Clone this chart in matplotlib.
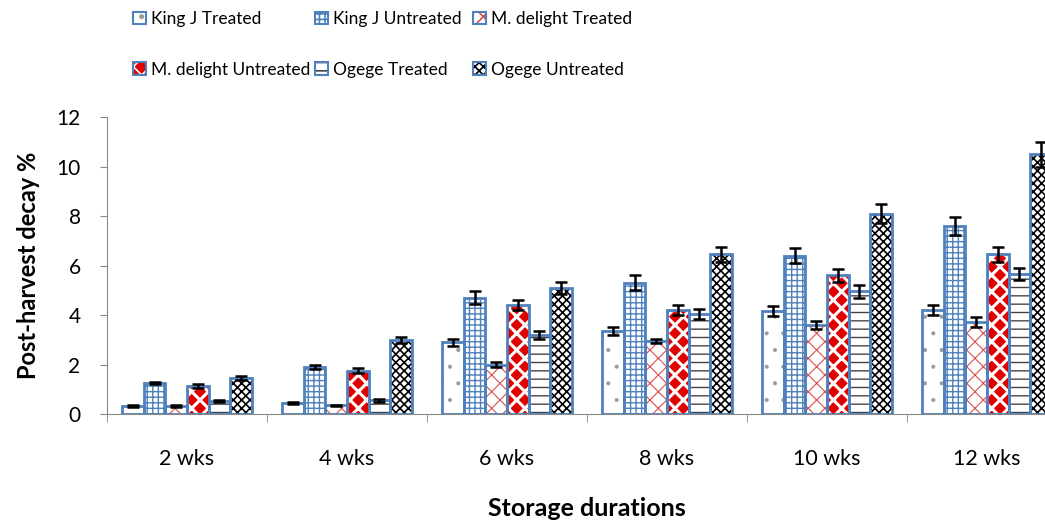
import matplotlib.pyplot as plt
import numpy as np
from matplotlib.patches import Patch

plt.rcParams["font.family"] = ["Lato", "DejaVu Sans"]

durations = ["2 wks", "4 wks", "6 wks", "8 wks", "10 wks", "12 wks"]
series_names = [
    "King J Treated",
    "King J Untreated",
    "M. delight Treated",
    "M. delight Untreated",
    "Ogege Treated",
    "Ogege Untreated",
]

king_t = [0.33, 0.45, 2.90, 3.35, 4.15, 4.20]
king_u = [1.25, 1.90, 4.70, 5.30, 6.40, 7.60]
md_t = [0.33, 0.35, 2.00, 2.95, 3.60, 3.70]
md_u = [1.13, 1.75, 4.40, 4.20, 5.60, 6.45]
og_t = [0.52, 0.55, 3.20, 4.05, 4.95, 5.65]
og_u = [1.45, 3.00, 5.10, 6.45, 8.10, 10.50]

king_t_err = [0.05, 0.05, 0.15, 0.15, 0.2, 0.2]
king_u_err = [0.05, 0.1, 0.25, 0.3, 0.3, 0.35]
md_t_err = [0.04, 0.03, 0.1, 0.1, 0.15, 0.2]
md_u_err = [0.08, 0.1, 0.2, 0.2, 0.25, 0.3]
og_t_err = [0.05, 0.05, 0.15, 0.2, 0.25, 0.25]
og_u_err = [0.08, 0.12, 0.25, 0.3, 0.4, 0.5]

values = [king_t, king_u, md_t, md_u, og_t, og_u]
errors = [king_t_err, king_u_err, md_t_err, md_u_err, og_t_err, og_u_err]

EDGE = "#4f81bd"
# face colour, hatch, hatch colour, hatch linewidth
styles = [
    ("white", ".", "#9a9a9a", 0.5),
    ("white", "+++", EDGE, 1.0),
    ("white", "xx", "#d85050", 0.8),
    ("#e00000", "xx", "white", 2.2),
    ("white", "--", "#444444", 1.0),
    ("white", "xxxx", "black", 1.2),
]

fig = plt.figure(figsize=(10.45, 5.24), dpi=100)
ax = fig.add_axes([0.1024, 0.2099, 0.9187, 0.5668])

x = np.arange(len(durations))
width = 0.135
handles = []
for i, (vals, errs) in enumerate(zip(values, errors)):
    pos = x + (i - 2.5) * width
    face, hatch, hcol, hlw = styles[i]
    plt.rcParams["hatch.linewidth"] = hlw
    ax.bar(pos, vals, width, color=face, edgecolor=hcol, hatch=hatch,
           linewidth=0, zorder=2)
    ax.bar(pos, vals, width, color="none", edgecolor=EDGE, linewidth=2, zorder=3)
    ax.errorbar(pos, vals, yerr=errs, fmt="none", ecolor="black", elinewidth=1.8,
                capsize=4, capthick=1.8, zorder=4)
    h_fill = Patch(facecolor=face, edgecolor=hcol, hatch=hatch, linewidth=0)
    h_edge = Patch(facecolor="none", edgecolor=EDGE, linewidth=1.5)
    handles.append((h_fill, h_edge))

ax.set_xlim(-0.5, len(durations) - 0.5)
ax.set_ylim(0, 12)
ax.set_yticks(range(0, 13, 2))
ax.set_xticks(x)
ax.set_xticklabels(durations)
ax.set_xticks(np.arange(-0.5, len(durations), 1), minor=True)
ax.tick_params(axis="x", which="major", length=0, labelsize=15.5, pad=25)
ax.tick_params(axis="x", which="minor", length=6, color="#888888")
ax.tick_params(axis="y", labelsize=15, color="#888888", length=5, pad=14)
for side in ["top", "right"]:
    ax.spines[side].set_visible(False)
for side in ["left", "bottom"]:
    ax.spines[side].set_color("#888888")

ax.set_ylabel("Post-harvest decay %", fontsize=17, fontweight="bold", labelpad=12)
ax.set_xlabel("Storage durations", fontsize=18, fontweight="bold", labelpad=20)

col_x = [0.1206, 0.2950, 0.4460]
for c in range(3):
    fig.legend([handles[c], handles[c + 3]],
               [series_names[c], series_names[c + 3]],
               loc="upper left", bbox_to_anchor=(col_x[c], 0.992),
               frameon=False, fontsize=12.5, handlelength=0.75,
               handleheight=0.75, handletextpad=0.3, labelspacing=2.0,
               borderaxespad=0)

fig.savefig("out.png", dpi=100)
